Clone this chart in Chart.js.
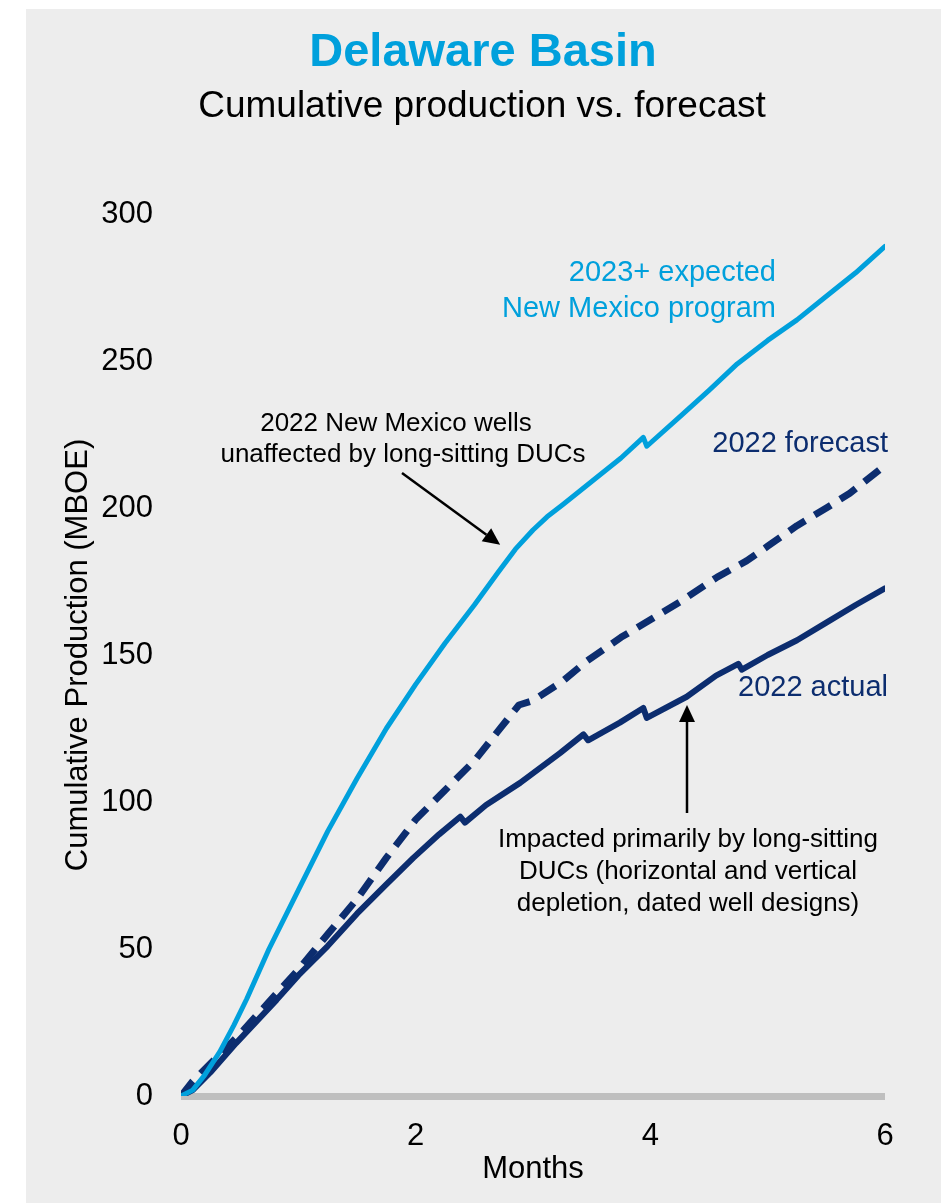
<!DOCTYPE html>
<html>
<head>
<meta charset="utf-8">
<script src="https://cdn.jsdelivr.net/npm/chart.js@4/dist/chart.umd.min.js"></script>
<style>
  html, body { margin: 0; padding: 0; background: #ededed; overflow: hidden; }
  #wrap { width: 941px; height: 1203px; position: relative; overflow: hidden; }
  canvas { display: block; }
</style>
</head>
<body>
<div id="wrap"><canvas id="c" width="941" height="1203"></canvas></div>
<script>
// ---- data (months, MBOE) ----
const blueMonths = [0, 0.1, 0.2, 0.33, 0.45, 0.56, 0.75, 1.0, 1.25, 1.5, 1.75, 2.0, 2.25, 2.5, 2.7, 2.85, 3.0, 3.12, 3.25, 3.5, 3.75, 3.94, 3.97, 4.25, 4.5, 4.74, 5.0, 5.25, 5.5, 5.75, 6.0];
const blueValues = [0, 2, 7, 15, 24, 33, 50, 70, 90, 108, 125, 140, 154, 167, 178, 186, 192.5, 197, 201, 209, 217, 224, 221, 231, 240, 249, 257, 264, 272, 280, 289];

const forecastMonths = [0, 0.1, 0.25, 0.5, 0.75, 1.0, 1.25, 1.5, 1.75, 2.0, 2.25, 2.5, 2.7, 2.88, 3.0, 3.25, 3.46, 3.75, 4.0, 4.25, 4.57, 4.82, 5.0, 5.25, 5.5, 5.7, 6.0];
const forecastValues = [0, 5, 11, 21, 32, 43, 55, 67, 81, 94, 104, 114, 124, 133, 134.5, 141, 148, 156, 162, 168, 176.5, 182, 187, 194, 200, 205, 214.5];

const actualMonths = [0, 0.1, 0.25, 0.47, 0.815, 1.0, 1.25, 1.5, 1.75, 1.98, 2.2, 2.38, 2.42, 2.6, 2.89, 3.23, 3.43, 3.47, 3.74, 3.94, 3.97, 4.31, 4.56, 4.75, 4.78, 5.0, 5.25, 5.5, 5.75, 6.0];
const actualValues = [0, 2, 8, 18, 32.7, 41, 51, 62, 72, 81, 89, 95, 93, 99, 106.5, 116.6, 123, 121, 127, 132, 128.6, 135.8, 143, 147, 145, 150, 155, 161, 167, 172.7];

const seriesNames = ['2023+ expected New Mexico program', '2022 forecast', '2022 actual'];
const xTicks = [0, 2, 4, 6];
const yTicks = [0, 50, 100, 150, 200, 250, 300];

const LIGHT = '#00a0dc';
const NAVY = '#0c2d6f';
const FONT = "'Liberation Sans', Arial, Helvetica, sans-serif";

function pts(xs, ys) { return xs.map((x, i) => ({ x: x, y: ys[i] })); }

const bgPlugin = {
  id: 'bg',
  beforeDraw(chart) {
    const ctx = chart.ctx;
    ctx.save();
    ctx.fillStyle = '#ffffff';
    ctx.fillRect(0, 0, chart.width, chart.height);
    ctx.fillStyle = '#ededed';
    ctx.fillRect(26, 9, chart.width, chart.height);
    // titles
    ctx.textAlign = 'center';
    ctx.textBaseline = 'middle';
    ctx.fillStyle = LIGHT;
    ctx.font = 'bold 47px ' + FONT;
    ctx.fillText('Delaware Basin', 483, 53);
    ctx.fillStyle = '#000000';
    ctx.font = '37px ' + FONT;
    ctx.fillText('Cumulative production vs. forecast', 482, 107);
    ctx.restore();
  }
};

function arrow(ctx, x1, y1, x2, y2, head, halfW) {
  const ang = Math.atan2(y2 - y1, x2 - x1);
  const bx = x2 - head * Math.cos(ang), by = y2 - head * Math.sin(ang);
  ctx.beginPath();
  ctx.moveTo(x1, y1);
  ctx.lineTo(bx, by);
  ctx.stroke();
  ctx.beginPath();
  ctx.moveTo(x2, y2);
  ctx.lineTo(bx + halfW * Math.sin(ang), by - halfW * Math.cos(ang));
  ctx.lineTo(bx - halfW * Math.sin(ang), by + halfW * Math.cos(ang));
  ctx.closePath();
  ctx.fill();
}

const annoPlugin = {
  id: 'anno',
  afterDatasetsDraw(chart) {
    const ctx = chart.ctx;
    const xs = chart.scales.x, ys = chart.scales.y;
    ctx.save();
    ctx.textBaseline = 'middle';
    // series labels
    ctx.font = '29px ' + FONT;
    ctx.fillStyle = LIGHT;
    ctx.textAlign = 'right';
    ctx.fillText('2023+ expected', 776, 273);
    ctx.fillText('New Mexico program', 776, 309);
    ctx.fillStyle = NAVY;
    ctx.fillText('2022 forecast', 888, 444);
    ctx.fillText('2022 actual', 888, 688);
    // black annotations
    ctx.font = '26px ' + FONT;
    ctx.fillStyle = '#000000';
    ctx.textAlign = 'center';
    ctx.fillText('2022 New Mexico wells', 396, 424);
    ctx.fillText('unaffected by long-sitting DUCs', 403, 455);
    ctx.fillText('Impacted primarily by long-sitting', 688, 840);
    ctx.fillText('DUCs (horizontal and vertical', 688, 872);
    ctx.fillText('depletion, dated well designs)', 688, 904);
    // arrows
    ctx.strokeStyle = '#000000';
    ctx.fillStyle = '#000000';
    ctx.lineWidth = 2.5;
    arrow(ctx, 402, 473, xs.getPixelForValue(2.72), ys.getPixelForValue(187.5), 17, 8);
    arrow(ctx, 687, 813, 687, ys.getPixelForValue(133), 17, 8);
    ctx.restore();
  }
};

new Chart(document.getElementById('c'), {
  type: 'line',
  data: {
    datasets: [
      { label: seriesNames[0], data: pts(blueMonths, blueValues), borderColor: LIGHT, borderWidth: 5, pointRadius: 0, tension: 0, fill: false, borderJoinStyle: 'round', borderCapStyle: 'round' },
      { label: seriesNames[1], data: pts(forecastMonths, forecastValues), borderColor: NAVY, borderWidth: 7, borderDash: [19, 11], pointRadius: 0, tension: 0, fill: false, borderJoinStyle: 'round' },
      { label: seriesNames[2], data: pts(actualMonths, actualValues), borderColor: NAVY, borderWidth: 6, pointRadius: 0, tension: 0, fill: false, borderJoinStyle: 'round', borderCapStyle: 'round' }
    ]
  },
  options: {
    responsive: false,
    animation: false,
    events: [],
    layout: { padding: { left: 0, right: 56, top: 214, bottom: 0 } },
    plugins: {
      legend: { display: false },
      tooltip: { enabled: false },
      title: { display: false },
      subtitle: { display: false }
    },
    scales: {
      x: {
        type: 'linear', min: 0, max: 6,
        afterFit(scale) { scale.height = 107; },
        afterBuildTicks(scale) { scale.ticks = xTicks.map(v => ({ value: v })); },
        grid: { display: false, drawTicks: false },
        border: { display: false },
        ticks: { color: '#000000', font: { family: FONT, size: 31 }, padding: 22, maxRotation: 0 },
        title: { display: true, text: 'Months', color: '#000000', font: { family: FONT, size: 31, lineHeight: 1.2 }, padding: { top: 0, bottom: 15 } }
      },
      y: {
        type: 'linear', min: 0, max: 300,
        afterFit(scale) { scale.width = 181; },
        afterBuildTicks(scale) { scale.ticks = yTicks.map(v => ({ value: v })); },
        grid: {
          drawTicks: false,
          color: (c) => (c.tick && c.tick.value === 0) ? '#bfbfbf' : 'rgba(0,0,0,0)',
          lineWidth: (c) => (c.tick && c.tick.value === 0) ? 7 : 0
        },
        border: { display: false },
        ticks: { color: '#000000', font: { family: FONT, size: 31 }, padding: 28 },
        title: { display: true, text: 'Cumulative Production (MBOE)', color: '#000000', font: { family: FONT, size: 31, lineHeight: 1.2 }, padding: { top: 60, bottom: 0 } }
      }
    }
  },
  plugins: [bgPlugin, annoPlugin]
});
</script>
</body>
</html>
